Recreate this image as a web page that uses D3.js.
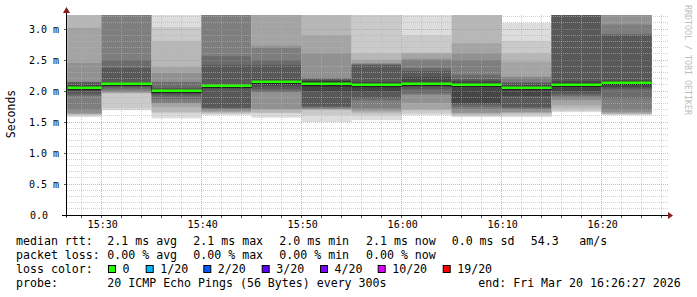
<!DOCTYPE html>
<html>
<head>
<meta charset="utf-8">
<script src="https://cdn.jsdelivr.net/npm/d3@7"></script>
<style>
body { margin: 0; background: #fff; }
svg { display: block; }
text { font-family: "DejaVu Sans Mono", monospace; }
</style>
</head>
<body>
<svg id="Graph" width="697" height="297"></svg>
<script>
// end time of each 5 minute step
let barEnds = ["15:30", "15:35", "15:40", "15:45", "15:50", "15:55", "16:00", "16:05", "16:10", "16:15", "16:20", "16:25"]

// 20 sorted ping rtts (ms) per step
let pings = [
    [1.58,1.61,1.62,1.63,1.64,1.69,1.92,1.95,2.00,2.03,2.07,2.10,2.14,2.14,2.15,2.45,3.02,3.40,3.60,3.80],
    [1.69,1.72,1.96,1.97,1.98,2.00,2.03,2.06,2.08,2.10,2.12,2.14,2.37,2.50,3.40,3.50,3.60,3.70,3.80,3.90],
    [1.56,1.64,1.66,1.74,1.80,1.81,1.87,1.93,1.96,1.99,2.01,2.03,2.05,2.14,2.15,2.29,2.39,2.81,3.03,3.40],
    [1.61,1.63,1.65,1.66,1.68,1.70,1.72,1.73,2.04,2.07,2.09,2.11,2.42,2.56,3.50,3.60,3.70,3.80,3.90,4.00],
    [1.57,1.64,1.65,1.70,1.71,1.98,1.99,2.03,2.08,2.13,2.16,2.19,2.42,2.50,2.70,2.73,3.40,3.50,3.60,3.70],
    [1.50,1.61,1.69,1.70,1.71,1.72,1.74,1.75,2.00,2.07,2.16,2.17,2.19,2.20,2.21,2.61,2.90,3.40,3.60,3.80],
    [1.53,1.61,1.64,1.67,1.69,1.72,1.85,1.89,2.00,2.06,2.12,2.15,2.42,2.43,2.44,2.45,2.50,2.61,3.50,3.60],
    [1.61,1.64,1.69,1.70,1.81,1.94,1.96,2.03,2.07,2.10,2.12,2.22,2.32,2.37,2.50,2.52,2.61,2.62,2.90,3.30],
    [1.58,1.60,1.62,1.64,1.65,1.70,1.74,1.78,1.81,2.07,2.11,2.16,2.19,2.26,2.50,2.61,2.77,3.40,3.50,3.60],
    [1.58,1.61,1.64,1.65,1.66,1.70,1.72,1.74,1.92,2.02,2.07,2.10,2.13,2.14,2.22,2.23,2.47,2.61,2.81,3.10],
    [1.66,1.68,1.72,1.77,1.85,1.88,1.92,1.95,2.00,2.07,2.13,2.16,3.40,3.50,3.55,3.60,3.70,3.80,3.90,4.00],
    [1.61,1.62,1.63,1.64,1.66,1.69,1.88,2.03,2.06,2.10,2.16,2.17,2.90,2.92,3.07,3.40,3.50,3.60,3.70,3.80]
]

let medians = [2.05, 2.11, 2.00, 2.085, 2.145, 2.115, 2.09, 2.11, 2.09, 2.045, 2.10, 2.13]

let yTicks = [0, 0.5, 1.0, 1.5, 2.0, 2.5, 3.0]

let lossLabels = ["0", "1/20", "2/20", "3/20", "4/20", "10/20", "19/20"]
let lossColors = ["#26ff00", "#00b8ff", "#0059ff", "#5e00ff", "#7e00ff", "#dd00ff", "#ff0000"]

let legendRows = [
    ["median rtt:", "2.1 ms avg", "2.1 ms max", "2.0 ms min", "2.1 ms now", "0.0 ms sd", "54.3", "am/s"],
    ["packet loss:", "0.00 % avg", "0.00 % max", "0.00 % min", "0.00 % now"]
]
let probeText = "20 ICMP Echo Pings (56 Bytes) every 300s"
let endText = "end: Fri Mar 20 16:26:27 2026"

let parseTime = d3.utcParse("%H:%M")
let parseFull = d3.utcParse("%H:%M:%S")

function getChartConfig(){
    let margin = { top: 15, bottom: 82, left: 67, right: 30 }
    let width = 697
    let height = 297
    let bodyWidth = 600
    let bodyHeight = 200
    let container = d3.select("#Graph")
    return { width, height, margin, bodyWidth, bodyHeight, container }
}

function getScales(config){
    let { margin, bodyWidth, bodyHeight } = config
    let xScale = d3.scaleUtc()
        .domain([parseFull("15:26:32"), parseFull("16:26:32")])
        .range([margin.left, margin.left + bodyWidth])
    let yScale = d3.scaleLinear()
        .domain([0, 3.226])
        .range([margin.top + bodyHeight, margin.top])
    return { xScale, yScale }
}

function drawSmoke(scales, config){
    let { xScale, yScale } = scales
    let { container, margin, bodyWidth, bodyHeight } = config

    container.append("clipPath").attr("id", "plotclip")
        .append("rect")
        .attr("x", margin.left + 0.5).attr("y", margin.top)
        .attr("width", bodyWidth).attr("height", bodyHeight)

    let body = container.append("g").attr("clip-path", "url(#plotclip)")

    let steps = barEnds.map((e, i) => ({ end: parseTime(e), p: pings[i], median: medians[i] }))
    let half = 10

    steps.forEach(s => {
        let x0 = xScale(d3.utcMinute.offset(s.end, -5))
        let x1 = xScale(s.end)
        for (let i = 0; i < half; i++) {
            let g = Math.floor(190 / half * (half - i - 1)) + 50
            body.append("rect")
                .attr("x", x0)
                .attr("width", x1 - x0)
                .attr("y", yScale(s.p[19 - i]))
                .attr("height", yScale(s.p[i]) - yScale(s.p[19 - i]))
                .attr("fill", d3.rgb(g, g, g))
        }
    })

    // median step line + loss coloured band
    let line = d3.line()
        .x(d => d.x)
        .y(d => Math.round(yScale(d.median)) + 1.5)
    let pts = []
    steps.forEach(s => {
        pts.push({ x: xScale(d3.utcMinute.offset(s.end, -5)), median: s.median })
        pts.push({ x: xScale(s.end), median: s.median })
    })
    body.append("path")
        .attr("d", line(pts))
        .attr("fill", "none")
        .attr("stroke", "#202020")
        .attr("stroke-width", 1)

    body.selectAll(".med").data(steps).enter().append("rect")
        .attr("x", d => xScale(d3.utcMinute.offset(d.end, -5)))
        .attr("width", d => xScale(d.end) - xScale(d3.utcMinute.offset(d.end, -5)))
        .attr("y", d => Math.round(yScale(d.median)) - 1.5)
        .attr("height", 2.5)
        .attr("fill", lossColors[0])
}

function drawGrid(scales, config){
    let { xScale, yScale } = scales
    let { container, margin, bodyWidth, bodyHeight } = config
    let grid = container.append("g")
    let top = margin.top, bottom = margin.top + bodyHeight
    let left = margin.left, right = margin.left + bodyWidth + 1

    let minorY = d3.range(1, 33).map(k => k / 10).filter(v => Math.abs(v * 2 - Math.round(v * 2)) > 0.01)
    grid.selectAll(".hmin").data(minorY).enter().append("line")
        .attr("x1", left).attr("x2", right)
        .attr("y1", d => Math.floor(yScale(d)) + 0.5).attr("y2", d => Math.floor(yScale(d)) + 0.5)
        .attr("stroke", "rgba(180,180,180,0.6)").attr("stroke-dasharray", "1,1")

    let minorX = xScale.ticks(d3.utcMinute.every(2)).filter(d => d.getUTCMinutes() % 10 != 0)
    grid.selectAll(".vmin").data(minorX).enter().append("line")
        .attr("x1", d => Math.floor(xScale(d)) + 0.5).attr("x2", d => Math.floor(xScale(d)) + 0.5)
        .attr("y1", top).attr("y2", bottom)
        .attr("stroke", "rgba(180,180,180,0.6)").attr("stroke-dasharray", "1,1")

    grid.selectAll(".hmaj").data(yTicks.slice(1)).enter().append("line")
        .attr("x1", left).attr("x2", right)
        .attr("y1", d => Math.floor(yScale(d)) + 0.5).attr("y2", d => Math.floor(yScale(d)) + 0.5)
        .attr("stroke", "rgba(240,110,110,0.6)").attr("stroke-dasharray", "1,1")

    let majorX = xScale.ticks(d3.utcMinute.every(10))
    grid.selectAll(".vmaj").data(majorX).enter().append("line")
        .attr("x1", d => Math.floor(xScale(d)) + 0.5).attr("x2", d => Math.floor(xScale(d)) + 0.5)
        .attr("y1", top).attr("y2", bottom)
        .attr("stroke", "rgba(240,110,110,0.6)").attr("stroke-dasharray", "1,1")
}

function drawAxes(scales, config){
    let { xScale, yScale } = scales
    let { container, margin, bodyWidth, bodyHeight } = config
    let base = margin.top + bodyHeight + 0.5

    // tick marks
    let tickX = xScale.ticks(d3.utcMinute.every(2))
    container.selectAll(".xt").data(tickX).enter().append("line")
        .attr("x1", d => Math.floor(xScale(d)) + 0.5).attr("x2", d => Math.floor(xScale(d)) + 0.5)
        .attr("y1", base).attr("y2", base + 2.5)
        .attr("stroke", "#555")
    container.selectAll(".yt").data(yTicks.slice(1)).enter().append("line")
        .attr("x1", margin.left - 3).attr("x2", margin.left)
        .attr("y1", d => Math.floor(yScale(d)) + 0.5).attr("y2", d => Math.floor(yScale(d)) + 0.5)
        .attr("stroke", "#555")

    container.append("line")
        .attr("x1", 62).attr("x2", margin.left + bodyWidth + 2)
        .attr("y1", base).attr("y2", base)
        .attr("stroke", "#000")
    container.append("line")
        .attr("x1", margin.left - 0.5).attr("x2", margin.left - 0.5)
        .attr("y1", base + 2).attr("y2", 11)
        .attr("stroke", "#000")

    container.append("path")
        .attr("d", `M${margin.left + bodyWidth + 1},${base - 3.5} L${margin.left + bodyWidth + 6},${base} L${margin.left + bodyWidth + 1},${base + 3.5} Z`)
        .attr("fill", "#8b1a1a")
    container.append("path")
        .attr("d", `M${margin.left - 4},13 L${margin.left - 0.5},7 L${margin.left + 3},13 Z`)
        .attr("fill", "#8b1a1a")

    let axisX = d3.axisBottom(xScale)
        .tickValues(xScale.ticks(d3.utcMinute.every(10)))
        .tickFormat(d3.utcFormat("%H:%M"))
        .tickSize(0)
        .tickPadding(6)
    let gx = container.append("g")
        .attr("transform", `translate(0.5,${base - 0.5})`)
        .call(axisX)
    gx.select(".domain").remove()
    gx.selectAll("text").attr("font-size", "10px").attr("font-family", "DejaVu Sans Mono").attr("fill", "#000")

    let axisY = d3.axisLeft(yScale)
        .tickValues(yTicks)
        .tickFormat(d => d === 0 ? "0.0" : d3.format(".1f")(d) + " m")
        .tickSize(0)
        .tickPadding(8)
    let gy = container.append("g")
        .attr("transform", `translate(${margin.left},0)`)
        .call(axisY)
    gy.select(".domain").remove()
    gy.selectAll("text").attr("font-size", "10px").attr("font-family", "DejaVu Sans Mono").attr("fill", "#000")
        .attr("text-anchor", d => d === 0 ? "start" : "end")
        .attr("x", d => d === 0 ? -37 : -8)

    container.append("text")
        .attr("transform", "translate(15,114) rotate(-90)")
        .attr("text-anchor", "middle")
        .attr("font-size", "11.5px")
        .text("Seconds")

    container.append("text")
        .attr("transform", "translate(684.5,5) rotate(90)")
        .attr("font-size", "8.3px")
        .attr("fill", "#bdbdbd")
        .text("RRDTOOL / TOBI OETIKER")
}

function drawLegend(config){
    let { container } = config
    let fs = "11.6px"
    let cols = [16, 107.3, 193.3, 279.3, 366, 451.7, 530.7, 579.3]
    let baselines = [245, 259, 273, 287]

    legendRows.forEach((row, r) => {
        row.forEach((t, c) => {
            container.append("text")
                .attr("x", cols[c]).attr("y", baselines[r])
                .attr("font-size", fs)
                .attr("xml:space", "preserve")
                .text(t)
        })
    })

    container.append("text").attr("x", 16).attr("y", baselines[2]).attr("font-size", fs).text("loss color:")
    let boxX = [108, 145.7, 203.3, 261.7, 320, 377.7, 442.7]
    lossLabels.forEach((l, i) => {
        container.append("rect")
            .attr("x", boxX[i] + 0.5).attr("y", 265.5)
            .attr("width", 7).attr("height", 7)
            .attr("fill", lossColors[i])
            .attr("stroke", "#000")
        container.append("text")
            .attr("x", boxX[i] + 14.5).attr("y", baselines[2])
            .attr("font-size", fs)
            .text(l)
    })

    container.append("text").attr("x", 16).attr("y", baselines[3]).attr("font-size", fs).text("probe:")
    container.append("text").attr("x", 107.3).attr("y", baselines[3]).attr("font-size", fs).text(probeText)
    container.append("text").attr("x", 478.3).attr("y", baselines[3]).attr("font-size", fs).text(endText)
}

function drawChart(){
    let config = getChartConfig()
    let scales = getScales(config)
    drawSmoke(scales, config)
    drawGrid(scales, config)
    drawAxes(scales, config)
    drawLegend(config)
}

drawChart()
</script>
</body>
</html>
